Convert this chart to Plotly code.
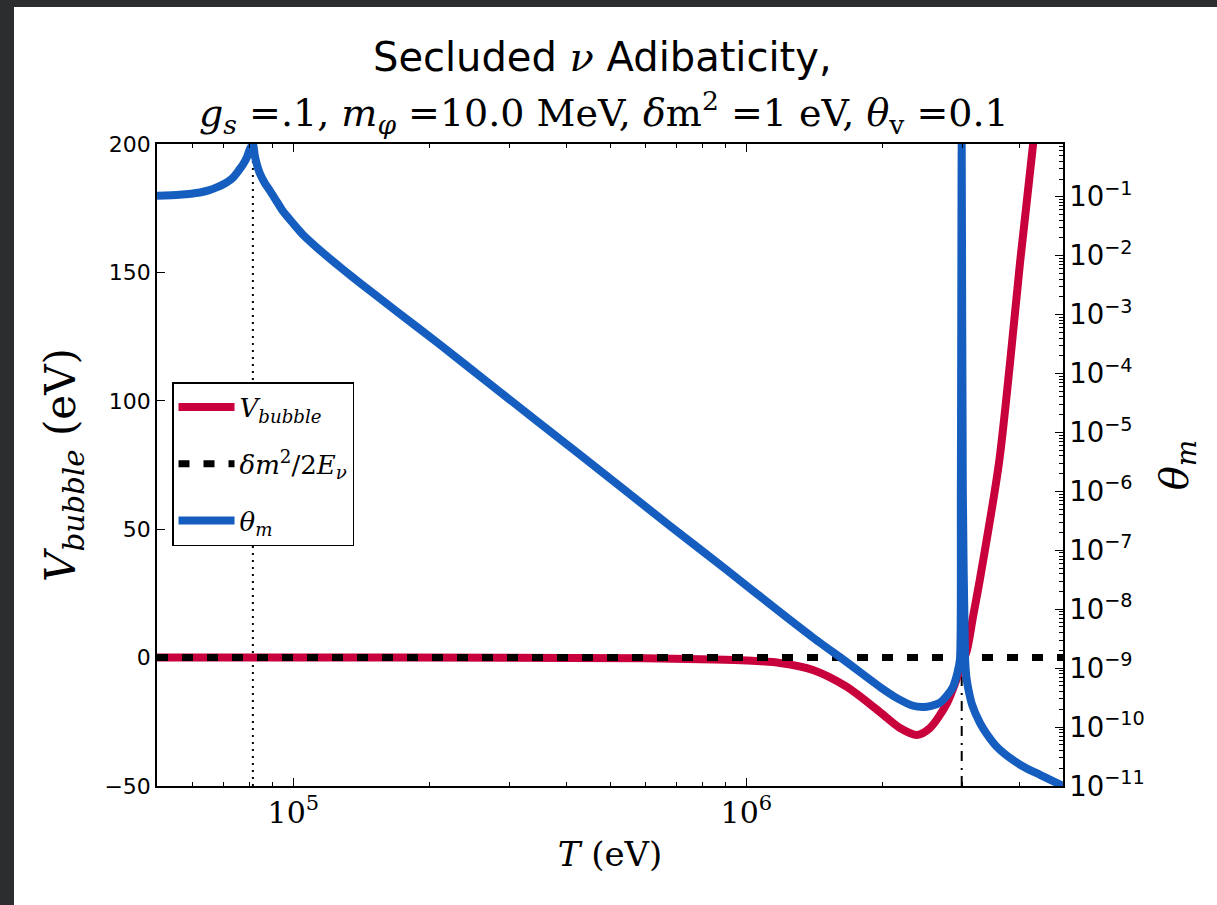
import math
import plotly.graph_objects as go

# ---------------- data ----------------
# V_bubble (eV) vs T (eV) -- left axis
T_bubble = [5.0e4, 1.0e5, 3.0e5, 6.0e5, 8.5e5, 1.0e6, 1.187e6, 1.403e6, 1.667e6,
            1.972e6, 2.183e6, 2.380e6, 2.543e6, 2.773e6, 2.961e6, 3.069e6,
            3.164e6, 3.281e6, 3.611e6, 3.819e6, 4.018e6, 4.293e6, 4.55e6]
V_bubble = [0.0, 0.0, -0.05, -0.3, -0.7, -1.1, -2.1, -4.8, -11.4,
            -21.2, -27.4, -30.1, -27.4, -17.7, -4.8, 3.0,
            15.8, 31.0, 75.8, 114.7, 153.6, 199.6, 245.0]

# dm^2 / 2E_nu (eV) -- essentially zero on this scale
T_dm = [5.0e4, 5.0e6]
V_dm = [0.0, 0.0]

# theta_m vs T -- right (log) axis
T_theta = [5.0e4, 5.6e4, 6.22e4, 6.5e4, 6.77e4, 7.1e4, 7.37e4, 7.55e4, 7.75e4,
           7.9e4, 8.02e4, 8.14e4, 8.22e4, 8.30e4, 8.44e4, 8.65e4, 8.88e4,
           9.2e4, 9.5e4, 1.0e5, 1.05e5, 1.128e5, 1.23e5, 1.334e5, 1.5e5,
           1.693e5, 2.1e5, 2.717e5, 4.29e5, 6.78e5, 9.0e5,
           1.187e6, 1.403e6, 1.667e6, 1.972e6, 2.15e6, 2.333e6, 2.455e6,
           2.56e6, 2.676e6, 2.77e6, 2.858e6, 2.92e6, 2.961e6, 2.975e6,
           2.988e6, 3.005e6, 3.040e6, 3.06e6, 3.084e6, 3.15e6, 3.28e6,
           3.4e6, 3.575e6, 3.878e6, 4.15e6, 4.45e6, 5.0e6]
theta_m = [0.104, 0.108, 0.118, 0.128, 0.144, 0.172, 0.214, 0.27, 0.357,
           0.47, 0.65, 0.785, 0.5, 0.36, 0.245, 0.17, 0.126,
           0.082, 0.0557, 0.0348, 0.0227, 0.01368, 7.76e-3, 4.67e-3, 2.31e-3,
           1.125e-3, 3.16e-4, 6.6e-5, 4.2e-6, 2.6e-7, 4.8e-8,
           8.9e-9, 3.3e-9, 1.26e-9, 4.8e-10, 3.1e-10, 2.3e-10, 2.2e-10,
           2.3e-10, 2.6e-10, 3.4e-10, 4.8e-10, 8.0e-10, 1.4e-9, 1.0e-6,
           0.785, 1.0e-6, 1.4e-9, 7.0e-10, 4.8e-10, 2.4e-10, 1.17e-10,
           7.5e-11, 4.6e-11, 2.75e-11, 2.0e-11, 1.55e-11, 1.0e-11]

# resonance temperatures (vertical guide lines)
T_res1 = 8.14e4
T_res2 = 2.988e6

T_range = [5.0e4, 5.0e6]
V_range = [-50, 200]
theta_range = [1e-11, math.pi / 4]

# ---------------- style ----------------
RED = "#C8003C"
BLUE = "#155EC0"
W, H = 1217, 905
L, R, T, B = 157, 154, 144, 119
PW, PH = W - L - R, H - T - B
SERIF = "DejaVu Serif"
SANS = "DejaVu Sans"


def px_x(p):
    return (p - L) / PW


def px_y(p):
    return (H - B - p) / PH


fig = go.Figure()
fig.add_trace(go.Scatter(
    x=T_bubble, y=V_bubble, mode="lines",
    line=dict(color=RED, width=8, shape="spline", smoothing=0.8),
    name="<i>V</i><sub><i>bubble</i></sub>", legendgroup="a"))
fig.add_trace(go.Scatter(
    x=T_dm, y=V_dm, mode="lines",
    line=dict(color="black", width=7, dash="11px,14px"),
    name="<i>δm</i><sup>2</sup>/2<i>E</i><sub><i>ν</i></sub>", legendgroup="b"))
fig.add_trace(go.Scatter(
    x=T_theta, y=theta_m, mode="lines", yaxis="y2",
    line=dict(color=BLUE, width=8, shape="spline", smoothing=0.6),
    name="<i>θ</i><sub><i>m</i></sub>", legendgroup="c"))

shapes = [
    # dark page border (top and left strips of the screenshot)
    dict(type="rect", xref="paper", yref="paper", x0=px_x(0), x1=px_x(14),
         y0=px_y(H), y1=px_y(0), fillcolor="#2b2d2f", line=dict(width=0)),
    dict(type="rect", xref="paper", yref="paper", x0=px_x(0), x1=px_x(W),
         y0=px_y(7), y1=px_y(0), fillcolor="#2b2d2f", line=dict(width=0)),
    # resonance guide lines
    dict(type="line", xref="x", yref="paper", x0=T_res1, x1=T_res1, y0=0, y1=1,
         line=dict(color="black", width=2, dash="2px,5px"), layer="below"),
    dict(type="line", xref="x", yref="y", x0=T_res2, x1=T_res2, y0=V_range[0], y1=0,
         line=dict(color="black", width=2, dash="10px,6px,2px,7px"), layer="below"),
]

annotations = [
    dict(text="Secluded <i><span style='font-family:DejaVu Serif'>ν</span></i> Adibaticity,",
         xref="paper", yref="paper", x=px_x(602), y=px_y(57),
         xanchor="center", yanchor="middle", showarrow=False,
         font=dict(family=SANS, size=40, color="black")),
    dict(text="<i>g<sub>s</sub></i> =.1, <i>m<sub>φ</sub></i> =10.0 MeV, "
              "<i>δ</i>m<sup>2</sup> =1 eV, <i>θ</i><sub>v</sub> =0.1",
         xref="paper", yref="paper", x=px_x(604), y=px_y(113),
         xanchor="center", yanchor="middle", showarrow=False,
         font=dict(family=SERIF, size=38, color="black")),
]

fig.update_layout(
    width=W, height=H,
    margin=dict(l=L, r=R, t=T, b=B, pad=0),
    paper_bgcolor="white", plot_bgcolor="white",
    showlegend=True,
    legend=dict(x=px_x(172), y=px_y(382), xanchor="left", yanchor="top",
                bgcolor="white", bordercolor="black", borderwidth=1.5,
                font=dict(family=SERIF, size=26, color="black"),
                tracegroupgap=20, itemwidth=56),
    xaxis=dict(type="log", range=[math.log10(T_range[0]), math.log10(T_range[1])],
               dtick=1, exponentformat="power",
               showline=True, linecolor="black", linewidth=1.5, mirror="ticks",
               ticks="inside", ticklen=8, tickwidth=1, tickcolor="black",
               minor=dict(ticks="inside", ticklen=4, dtick="D1", tickcolor="black", showgrid=False),
               showgrid=False, zeroline=False,
               tickfont=dict(family=SERIF, size=24, color="black"),
               title=dict(text="<i>T</i> (eV)", font=dict(family=SERIF, size=34, color="black"),
                          standoff=14)),
    yaxis=dict(range=V_range, dtick=50,
               showline=True, linecolor="black", linewidth=1.5, mirror=True,
               ticks="inside", ticklen=8, tickwidth=1, tickcolor="black",
               showgrid=False, zeroline=False,
               tickfont=dict(family=SANS, size=22, color="black"),
               title=dict(text="<i>V</i><sub><i>bubble</i></sub> (eV)",
                          font=dict(family=SERIF, size=42, color="black"), standoff=16)),
    yaxis2=dict(type="log", overlaying="y", side="right",
                range=[math.log10(theta_range[0]), math.log10(theta_range[1])],
                dtick=1, exponentformat="power",
                showline=True, linecolor="black", linewidth=1.5,
                ticks="inside", ticklen=8, tickwidth=1, tickcolor="black",
                minor=dict(ticks="inside", ticklen=4, dtick="D1", tickcolor="black", showgrid=False),
                showgrid=False, zeroline=False,
                tickfont=dict(family=SANS, size=22, color="black"),
                title=dict(text="<i>θ</i><sub><i>m</i></sub>",
                           font=dict(family=SERIF, size=40, color="black"), standoff=16)),
    shapes=shapes,
    annotations=annotations,
)

fig.write_html("out.html")
